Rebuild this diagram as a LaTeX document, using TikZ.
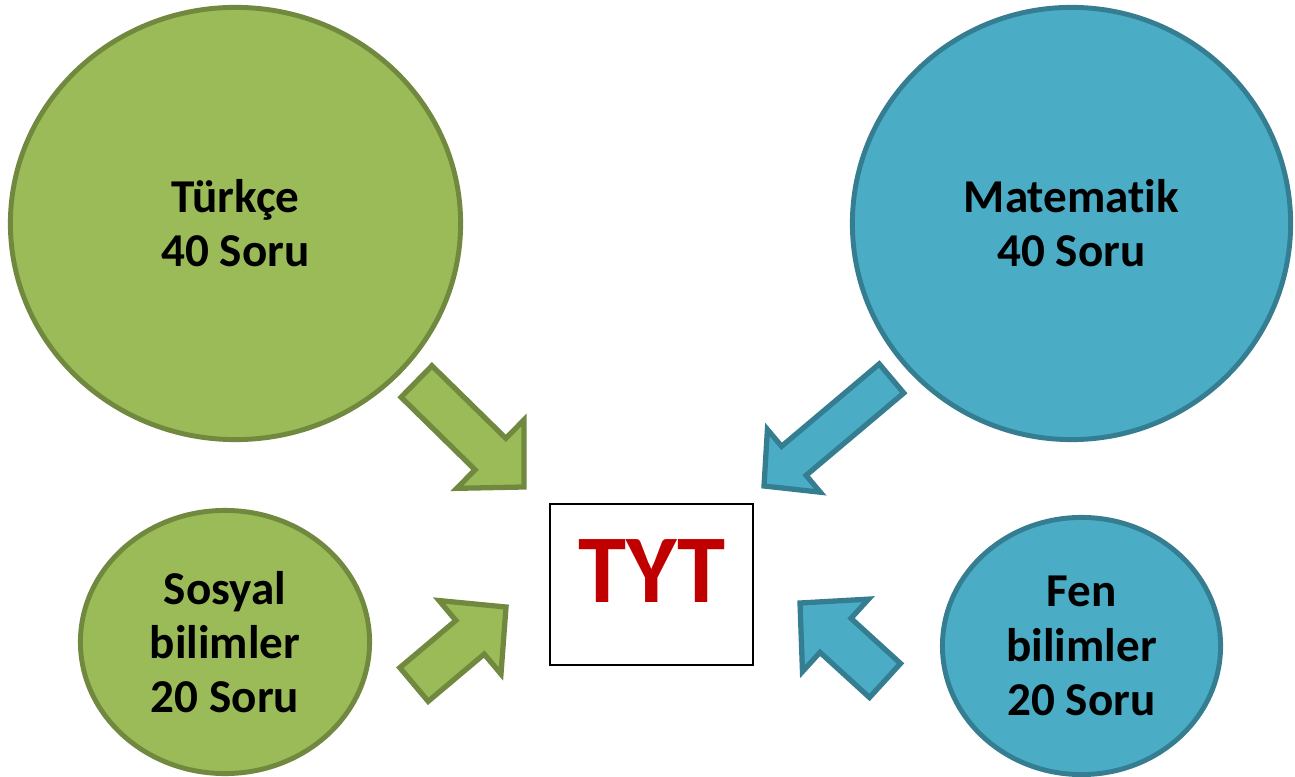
\documentclass[tikz,border=0pt]{standalone}
\usepackage{fontspec}
\setmainfont{Carlito}[Ligatures=NoCommon]
\usepackage{tikz}
\usetikzlibrary{shapes.geometric, calc, positioning}
\definecolor{ballgreen}{HTML}{9BBB59}
\definecolor{linegreen}{HTML}{71893F}
\definecolor{ballblue}{HTML}{4BACC6}
\definecolor{lineblue}{HTML}{357D91}
\definecolor{tytred}{HTML}{C00000}
\tikzstyle{ball} = [ellipse, line width=1.4pt, inner sep=0pt, align=center, font=\fontsize{13.4}{15.4}\selectfont\bfseries]
\tikzstyle{greenball} = [ball, draw=linegreen, fill=ballgreen]
\tikzstyle{blueball} = [ball, draw=lineblue, fill=ballblue]
\tikzstyle{greenarrow} = [draw=linegreen, fill=ballgreen, line width=1.5pt]
\tikzstyle{bluearrow} = [draw=lineblue, fill=ballblue, line width=1.5pt]
\tikzstyle{tytbox} = [rectangle, draw=black, line width=0.7pt, minimum width=2.03cm, minimum height=1.61cm, inner sep=0pt]
\tikzstyle{tytlabel} = [text=tytred, inner sep=0pt, font=\fontsize{27.6}{30}\selectfont\bfseries]

% block arrow: style, tail, tip, half shaft, half head, head length
\newcommand{\blockarrow}[6]{%
  \coordinate (ba-s) at ($(#3)!#6!(#2)$);
  \draw[#1] ($(#2)!#4!90:(#3)$) -- ($(ba-s)!#4!90:(#3)$) -- ($(ba-s)!#5!90:(#3)$)
    -- (#3) -- ($(ba-s)!#5!-90:(#3)$) -- ($(ba-s)!#4!-90:(#3)$) -- ($(#2)!#4!-90:(#3)$) -- cycle;
}

\begin{document}
\begin{tikzpicture}[x=0.01cm, y=-0.01cm]
        \useasboundingbox (0,0) rectangle (1295,777);

        \node (turkce) [greenball, minimum width=4.50cm, minimum height=4.32cm] at (235.5,223.5) {Türkçe\\40 Soru};
        \node (matematik) [blueball, minimum width=4.38cm, minimum height=4.32cm] at (1071.5,223.5) {Matematik\\40 Soru};
        \node (sosyal) [greenball, minimum width=2.89cm, minimum height=2.63cm] at (225,642) {Sosyal\\bilimler\\20 Soru};
        \node (fen) [blueball, minimum width=2.78cm, minimum height=2.57cm] at (1081.5,646) {Fen\\bilimler\\20 Soru};

        \node (tyt) [tytbox] at (651.5,584.5) {};
        \node (tyttext) [tytlabel, anchor=base] at (652,602) {TYT};

        \coordinate (turkce-tail) at (416.5,381.5);
        \coordinate (turkce-tip) at (524,487);
        \coordinate (matematik-tail) at (891.5,378.5);
        \coordinate (matematik-tip) at (764,486);
        \coordinate (sosyal-tail) at (414,684.5);
        \coordinate (sosyal-tip) at (506,607);
        \coordinate (fen-tail) at (885,680.5);
        \coordinate (fen-tip) at (800,603);

        \blockarrow{greenarrow}{turkce-tail}{turkce-tip}{0.22cm}{0.48cm}{0.47cm}
        \blockarrow{bluearrow}{matematik-tail}{matematik-tip}{0.19cm}{0.41cm}{0.39cm}
        \blockarrow{greenarrow}{sosyal-tail}{sosyal-tip}{0.22cm}{0.48cm}{0.47cm}
        \blockarrow{bluearrow}{fen-tail}{fen-tip}{0.23cm}{0.49cm}{0.48cm}
\end{tikzpicture}
\end{document}
